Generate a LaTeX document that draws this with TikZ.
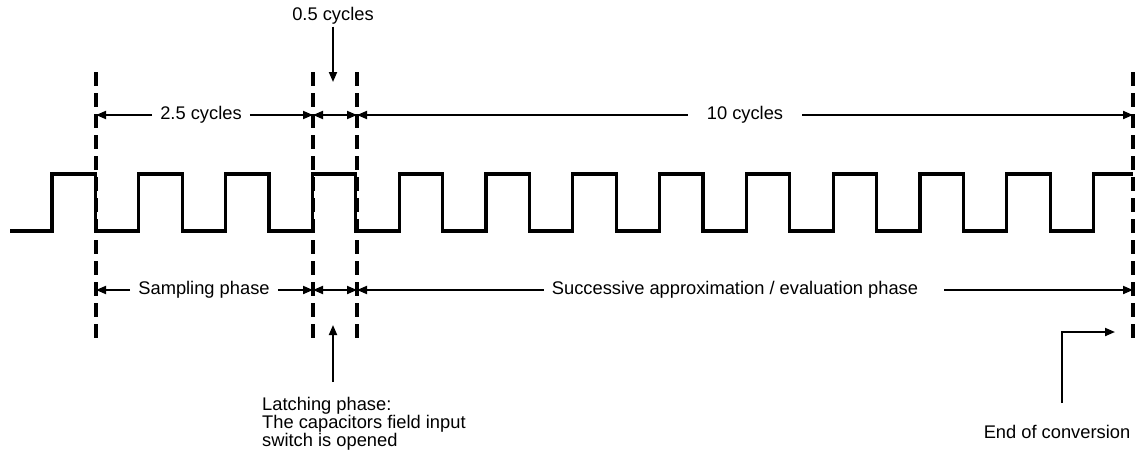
\documentclass[tikz,border=0pt]{standalone}
\usepackage{fontspec}
\setmainfont{Liberation Sans}
\usetikzlibrary{arrows.meta}

\begin{document}
\begin{tikzpicture}[
    x=1pt, y=-1pt,
    lbl/.style={inner xsep=8pt, inner ysep=2pt, font=\fontsize{18.3}{16.7}\selectfont},
    clk/.style={line width=3.2pt},
    guide/.style={line width=3.2pt, dash pattern=on 14pt off 7pt},
    dimarr/.style={-{Triangle[length=10pt,width=8pt]}, line width=1.9pt},
    dimboth/.style={{Triangle[length=10pt,width=8pt]}-{Triangle[length=10pt,width=8pt]}, line width=1.9pt}
  ]
    \useasboundingbox (0,0) rectangle (1139,455);

    %% ---- phase boundaries ----
    \foreach \n/\x in {b0/96, b1/313, b2/357, b3/1133} {
      \coordinate (\n top) at (\x,72);
      \coordinate (\n bot) at (\x,342);
      \coordinate (\n up)  at (\x,115);
      \coordinate (\n lo)  at (\x,290);
    }

    %% ---- clock ----
    \draw[clk] (10,231) -- (52,231)
      \foreach \i in {1,...,12} { -- ++(0,-57) -- ++(43.4,0) -- ++(0,57) -- ++(43.4,0) }
      -- ++(0,-57) -- (1133,174);

    \foreach \n in {b0,b1,b2,b3} \draw[guide] (\n top) -- (\n bot);

    %% ---- cycle counts ----
    \node[lbl] (c25) at (201,115) {2.5 cycles};
    \draw[dimarr] (c25) -- (b0up);
    \draw[dimarr] (c25) -- (b1up);
    \draw[dimboth] (b1up) -- (b2up);
    \node[lbl, inner xsep=19pt] (c10) at (745,115) {10 cycles};
    \draw[dimarr] (c10) -- (b2up);
    \draw[dimarr] (c10) -- (b3up);

    \node[lbl] (c05) at (333,16) {0.5 cycles};
    \coordinate (c05tip) at (333,82);
    \draw[dimarr] (c05) -- (c05tip);

    %% ---- phases ----
    \node[lbl] (samp) at (204,290) {Sampling phase};
    \draw[dimarr] (samp) -- (b0lo);
    \draw[dimarr] (samp) -- (b1lo);
    \draw[dimboth] (b1lo) -- (b2lo);
    \node[lbl] (sar) at (735,290) {Successive approximation / evaluation phase};
    \draw[dimarr] (sar) -- (b2lo);
    \draw[dimarr, shorten <=18pt] (sar) -- (b3lo);

    %% ---- notes ----
    \node[lbl, align=left, anchor=north west, inner sep=0pt] (latch) at (262,397)
      {Latching phase:\\The capacitors field input\\switch is opened};
    \coordinate (lbase) at (333,382);
    \coordinate (ltip) at (333,325);
    \draw[dimarr] (lbase) -- (ltip);

    \node[lbl] (eoc) at (1057,432) {End of conversion};
    \coordinate (ebase) at (1062,403);
    \coordinate (etip) at (1115,332);
    \draw[dimarr] (ebase) |- (etip);
  \end{tikzpicture}
\end{document}
